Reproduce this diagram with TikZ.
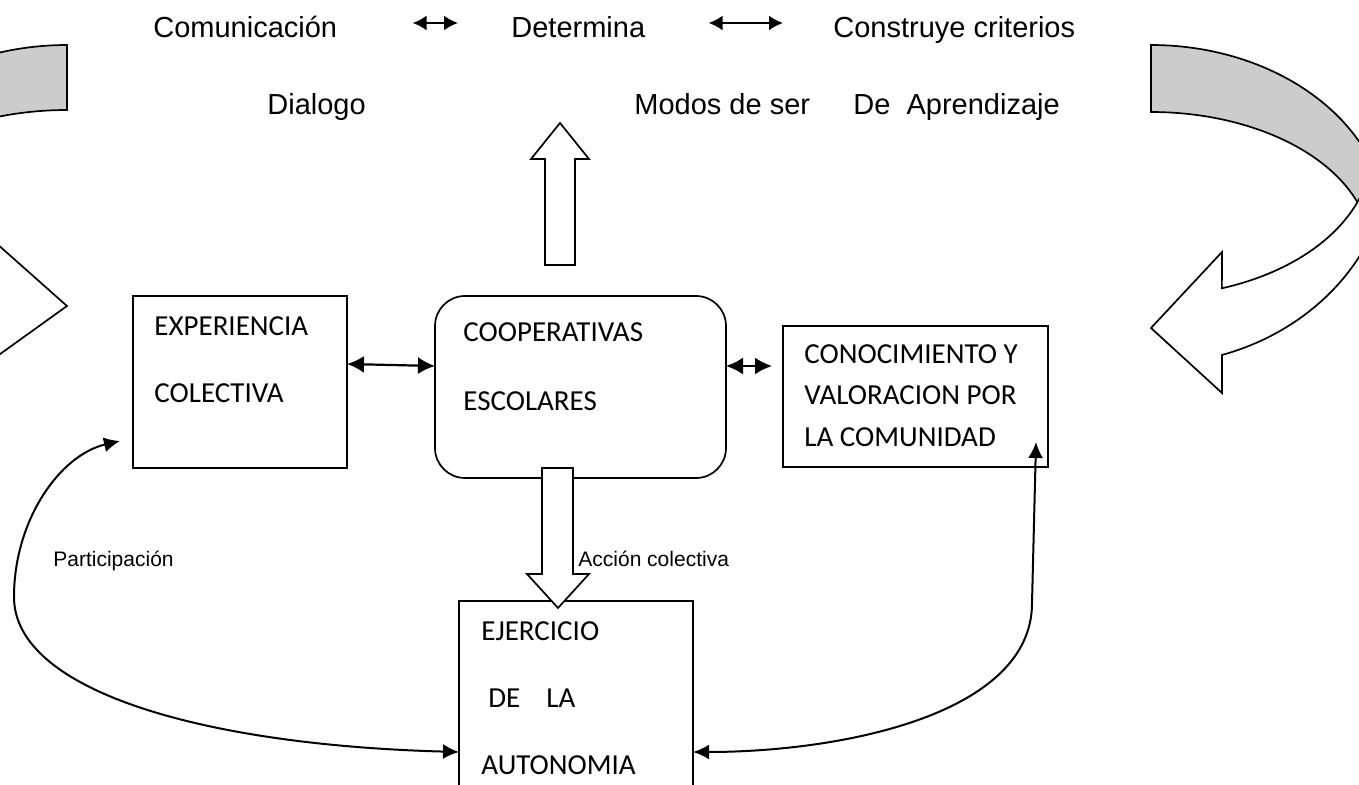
\documentclass[tikz,border=0pt]{standalone}
\usepackage{fontspec}
\setmainfont{Carlito}
\newfontfamily\arialfont{Liberation Sans}
\usetikzlibrary{arrows.meta}
\definecolor{bandgray}{HTML}{CCCCCC}
\newcommand\bxfont{\fontsize{14.5pt}{17pt}\selectfont}
\newcommand\tpfont{\arialfont\fontsize{14.5pt}{17pt}\selectfont}
\newcommand\smfont{\arialfont\fontsize{10.5pt}{12.5pt}\selectfont}
\begin{document}
\begin{tikzpicture}[x=0.5pt,y=-0.5pt,
  boxnode/.style={draw, line width=0.85pt, inner sep=0pt, outer sep=0pt},
  boxtext/.style={anchor=base west, inner sep=0pt, font=\bxfont},
  toptext/.style={anchor=base west, inner sep=0pt, font=\tpfont},
  smalltext/.style={anchor=base west, inner sep=0pt, font=\smfont},
  conn/.style={line width=1pt, {Latex[length=8pt,width=7.5pt]}-{Latex[length=8pt,width=7.5pt]}},
  dbl/.style={line width=1.1pt, {Latex[length=8.5pt,width=8.5pt]}-{Latex[length=8.5pt,width=8.5pt]}},
  topdbl/.style={line width=1.1pt, {Latex[length=7pt,width=7.5pt]}-{Latex[length=7pt,width=7.5pt]}},
  blockarrow/.style={draw, fill=white, line width=0.85pt, line join=miter},
  bandback/.style={draw, fill=bandgray, line width=0.85pt},
  bandfront/.style={draw, fill=white, line width=0.85pt, line join=miter}]
\useasboundingbox (0,0) rectangle (1359,785);
\clip (0,0) rectangle (1359,785);

% right curved block arrow
\path[bandback] plot[variable=\t,domain=-90:0,samples=60] ({1151+237*cos(\t)},{230+185*sin(\t)})
  -- plot[variable=\t,domain=0:-90,samples=60] ({1151+220*cos(\t)},{250+138*sin(\t)}) -- cycle;
\path[bandfront] plot[variable=\t,domain=0:72.8,samples=60] ({1151+240*cos(\t)},{150+214.6*sin(\t)})
  -- (1222,393) -- (1151,328) -- (1222,252)
  -- plot[variable=\t,domain=71.3:0,samples=60] ({1151+221*cos(\t)},{150+146*sin(\t)}) -- cycle;

% left curved block arrow
\path[bandback] plot[variable=\t,domain=-90:-180,samples=60] ({67+237*cos(\t)},{228+183*sin(\t)})
  -- plot[variable=\t,domain=-180:-90,samples=60] ({67+220*cos(\t)},{245+135*sin(\t)}) -- cycle;
\path[bandfront] (-60,243) -- (-4,243) -- (67,306) -- (-4,357) -- (-60,357) -- cycle;

% top texts
\node[toptext] (com) at (153,38) {Comunicación};
\node[toptext] (det) at (511,38) {Determina};
\node[toptext] (cons) at (833,38) {Construye criterios};
\node[toptext] (dia) at (267,115) {Dialogo};
\node[toptext] (mod) at (634,115) {Modos de ser};
\node[toptext] (apr) at (853,115) {De~~Aprendizaje};
\draw[topdbl] ([xshift=37.5pt,yshift=7.5pt]com.base east) -- ([xshift=-26.5pt,yshift=7.5pt]det.base west);
\draw[topdbl] ([xshift=31.5pt,yshift=7.5pt]det.base east) -- ([xshift=-25pt,yshift=7.5pt]cons.base west);

% boxes
\node[boxnode, minimum width=107pt, minimum height=86pt] (exp) at (240,382) {};
\node[boxnode, rounded corners=15pt, minimum width=145.5pt, minimum height=91pt] (coop) at (580.5,387) {};
\node[boxnode, minimum width=132.5pt, minimum height=70.5pt] (con) at (915.5,396.5) {};
\node[boxnode, minimum width=117pt, minimum height=109pt] (ejer) at (576,710) {};

\node[boxtext] (exp1) at (154,336) {EXPERIENCIA};
\node[boxtext] (exp2) at (154,403) {COLECTIVA};
\node[boxtext] (coop1) at (463,342) {COOPERATIVAS};
\node[boxtext] (coop2) at (463,411) {ESCOLARES};
\node[boxtext] (con1) at (804,364) {CONOCIMIENTO Y};
\node[boxtext] (con2) at (804,405) {VALORACION POR};
\node[boxtext] (con3) at (804,447) {LA COMUNIDAD};
\node[boxtext] (ej1) at (481,640) {EJERCICIO};
\node[boxtext] (ej2) at (488,707) {DE\hspace{13pt}LA};
\node[boxtext] (ej3) at (481,774) {AUTONOMIA};

% block arrows
\path[blockarrow] (545,265) -- (575,265) -- (575,159) -- (589,159) -- (560,123) -- (531,159) -- (545,159) -- cycle;
\path[blockarrow] (542,468) -- (573,468) -- (573,574) -- (589,574) -- (558,608) -- (527,574) -- (542,574) -- cycle;

% connectors
\draw[dbl] ([yshift=9pt]exp.east) -- ([yshift=10.5pt]coop.west);
\draw[dbl] ([yshift=10.5pt]coop.east) -- ([xshift=-5.5pt,yshift=15.25pt]con.west);
\draw[conn] ([xshift=-6.5pt,yshift=-29.5pt]exp.west) .. controls (60,455) and (14,520) .. (14,597)
  .. controls (14,690) and (200,745) .. ([yshift=-21pt]ejer.west);
\draw[conn] ([xshift=-6pt,yshift=12.5pt]con.south east) -- (1032,603)
  .. controls (1032,715) and (840,752) .. ([yshift=-21pt]ejer.east);

% labels
\node[smalltext] (part) at (53,567) {Participación};
\node[smalltext] (acc) at (578,567) {Acción colectiva};
\end{tikzpicture}
\end{document}
